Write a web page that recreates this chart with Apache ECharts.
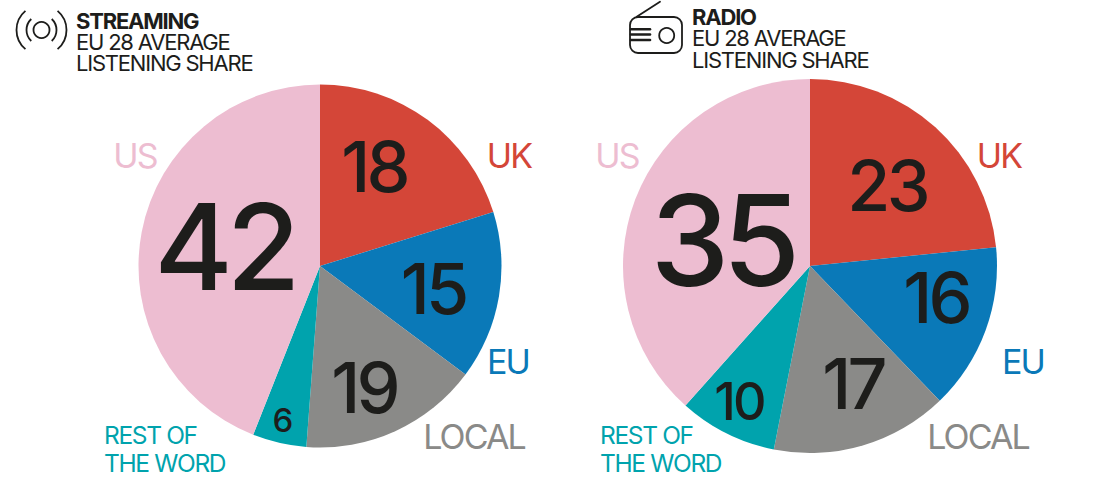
<!DOCTYPE html>
<html>
<head>
<meta charset="utf-8">
<style>
  html, body { margin: 0; background: #fff; }
  #chart { width: 1098px; height: 502px; }
  #chart text { letter-spacing: -0.055em; }
</style>
<script src="https://cdn.jsdelivr.net/npm/echarts@6/dist/echarts.min.js"></script>
</head>
<body>
<div id="chart"></div>
<script>
const categories = ["UK", "EU", "LOCAL", "REST OF THE WORD", "US"];
const colors = ["#d44638", "#0a79b8", "#8a8a88", "#00a3ad", "#edbdd1"];

// printed figures
const streamingLabels = [18, 15, 19, 6, 42];
const radioLabels = [23, 16, 17, 10, 35];

// slice sizes as drawn; they don't follow the printed figures
const streamingSlices = [20.2, 15, 16, 4.8, 44];
const radioSlices = [23.4, 14.4, 15.3, 8.5, 38.4];

const ink = "#1d1d1b";
const font = 'Inter, "Liberation Sans", sans-serif';

const streamingLabelPos = [[374, 166], [433, 288], [364, 387], [282, 420], [224, 246]];
const radioLabelPos = [[887, 185], [936, 297], [853, 383], [739, 401], [722, 240]];
const streamingLabelSize = [70, 70, 70, 33, 120];
const radioLabelSize = [70, 70, 70, 52, 126];

function pie(center, radius, slices) {
  return {
    type: "pie",
    silent: true,
    center: center,
    radius: radius,
    startAngle: 90,
    clockwise: true,
    animation: false,
    label: { show: false },
    labelLine: { show: false },
    data: slices.map((v, i) => ({
      name: categories[i],
      value: v,
      itemStyle: { color: colors[i] },
    })),
  };
}

function label(x, y, text, color, size, weight, align) {
  return {
    type: "text",
    x: x,
    y: y,
    silent: true,
    z: 10,
    style: {
      text: text,
      fill: color,
      font: (weight || "normal") + " " + size + "px " + font,
      align: align || "left",
      verticalAlign: "middle",
    },
  };
}

function line(x1, y1, x2, y2, width) {
  return {
    type: "line",
    silent: true,
    shape: { x1: x1, y1: y1, x2: x2, y2: y2 },
    style: { stroke: ink, lineWidth: width, lineCap: "round" },
  };
}

function ring(cx, cy, r, start, end) {
  return {
    type: "arc",
    silent: true,
    shape: { cx: cx, cy: cy, r: r, startAngle: start * Math.PI / 180, endAngle: end * Math.PI / 180 },
    style: { stroke: ink, fill: "none", lineWidth: 1.8 },
  };
}

function figures(values, pos, sizes) {
  return values.map((v, i) => label(pos[i][0], pos[i][1], String(v), ink, sizes[i], "500", "center"));
}

const headings = [
  label(76, 21, "STREAMING", ink, 22, "bold"),
  label(76, 42, "EU 28 AVERAGE", ink, 22),
  label(76, 63, "LISTENING SHARE", ink, 22),
  label(692, 17, "RADIO", ink, 22, "bold"),
  label(692, 38, "EU 28 AVERAGE", ink, 22),
  label(692, 60, "LISTENING SHARE", ink, 22),
];

const sliceNames = [
  label(135, 155, "US", colors[4], 34, null, "center"),
  label(509, 155, "UK", colors[0], 34, null, "center"),
  label(508, 361, "EU", colors[1], 34, null, "center"),
  label(474, 436, "LOCAL", colors[2], 34, null, "center"),
  label(104, 435, "REST OF", colors[3], 24.5),
  label(104, 463, "THE WORD", colors[3], 24.5),
  label(617, 155, "US", colors[4], 34, null, "center"),
  label(999, 155, "UK", colors[0], 34, null, "center"),
  label(1023, 361, "EU", colors[1], 34, null, "center"),
  label(978, 436, "LOCAL", colors[2], 34, null, "center"),
  label(600, 435, "REST OF", colors[3], 24.5),
  label(600, 463, "THE WORD", colors[3], 24.5),
];

const icons = [
  { type: "circle", silent: true, shape: { cx: 41.5, cy: 30, r: 8 }, style: { stroke: ink, fill: "none", lineWidth: 1.8 } },
  ring(41.5, 30, 15, -47, 47),
  ring(41.5, 30, 15, 133, 227),
  ring(41.5, 30, 25, -50, 50),
  ring(41.5, 30, 25, 130, 230),
  { type: "rect", silent: true, shape: { x: 630, y: 17, width: 52, height: 36, r: 8 }, style: { stroke: ink, fill: "none", lineWidth: 1.8 } },
  { type: "circle", silent: true, shape: { cx: 666.7, cy: 35.5, r: 7.5 }, style: { stroke: ink, fill: "none", lineWidth: 1.8 } },
  line(636.7, 16.7, 660, 1.7, 1.8),
  line(631, 29.3, 650, 29.3, 2.6),
  line(631, 34.5, 650, 34.5, 2.6),
  line(631, 40, 650, 40, 2.6),
];

const chart = echarts.init(document.getElementById("chart"), null, { renderer: "svg" });
chart.setOption({
  animation: false,
  backgroundColor: "#fff",
  series: [
    pie([320, 266], 181.5, streamingSlices),
    pie([810, 266], 187, radioSlices),
  ],
  graphic: headings.concat(
    sliceNames,
    icons,
    figures(streamingLabels, streamingLabelPos, streamingLabelSize),
    figures(radioLabels, radioLabelPos, radioLabelSize)
  ),
});
</script>
</body>
</html>
